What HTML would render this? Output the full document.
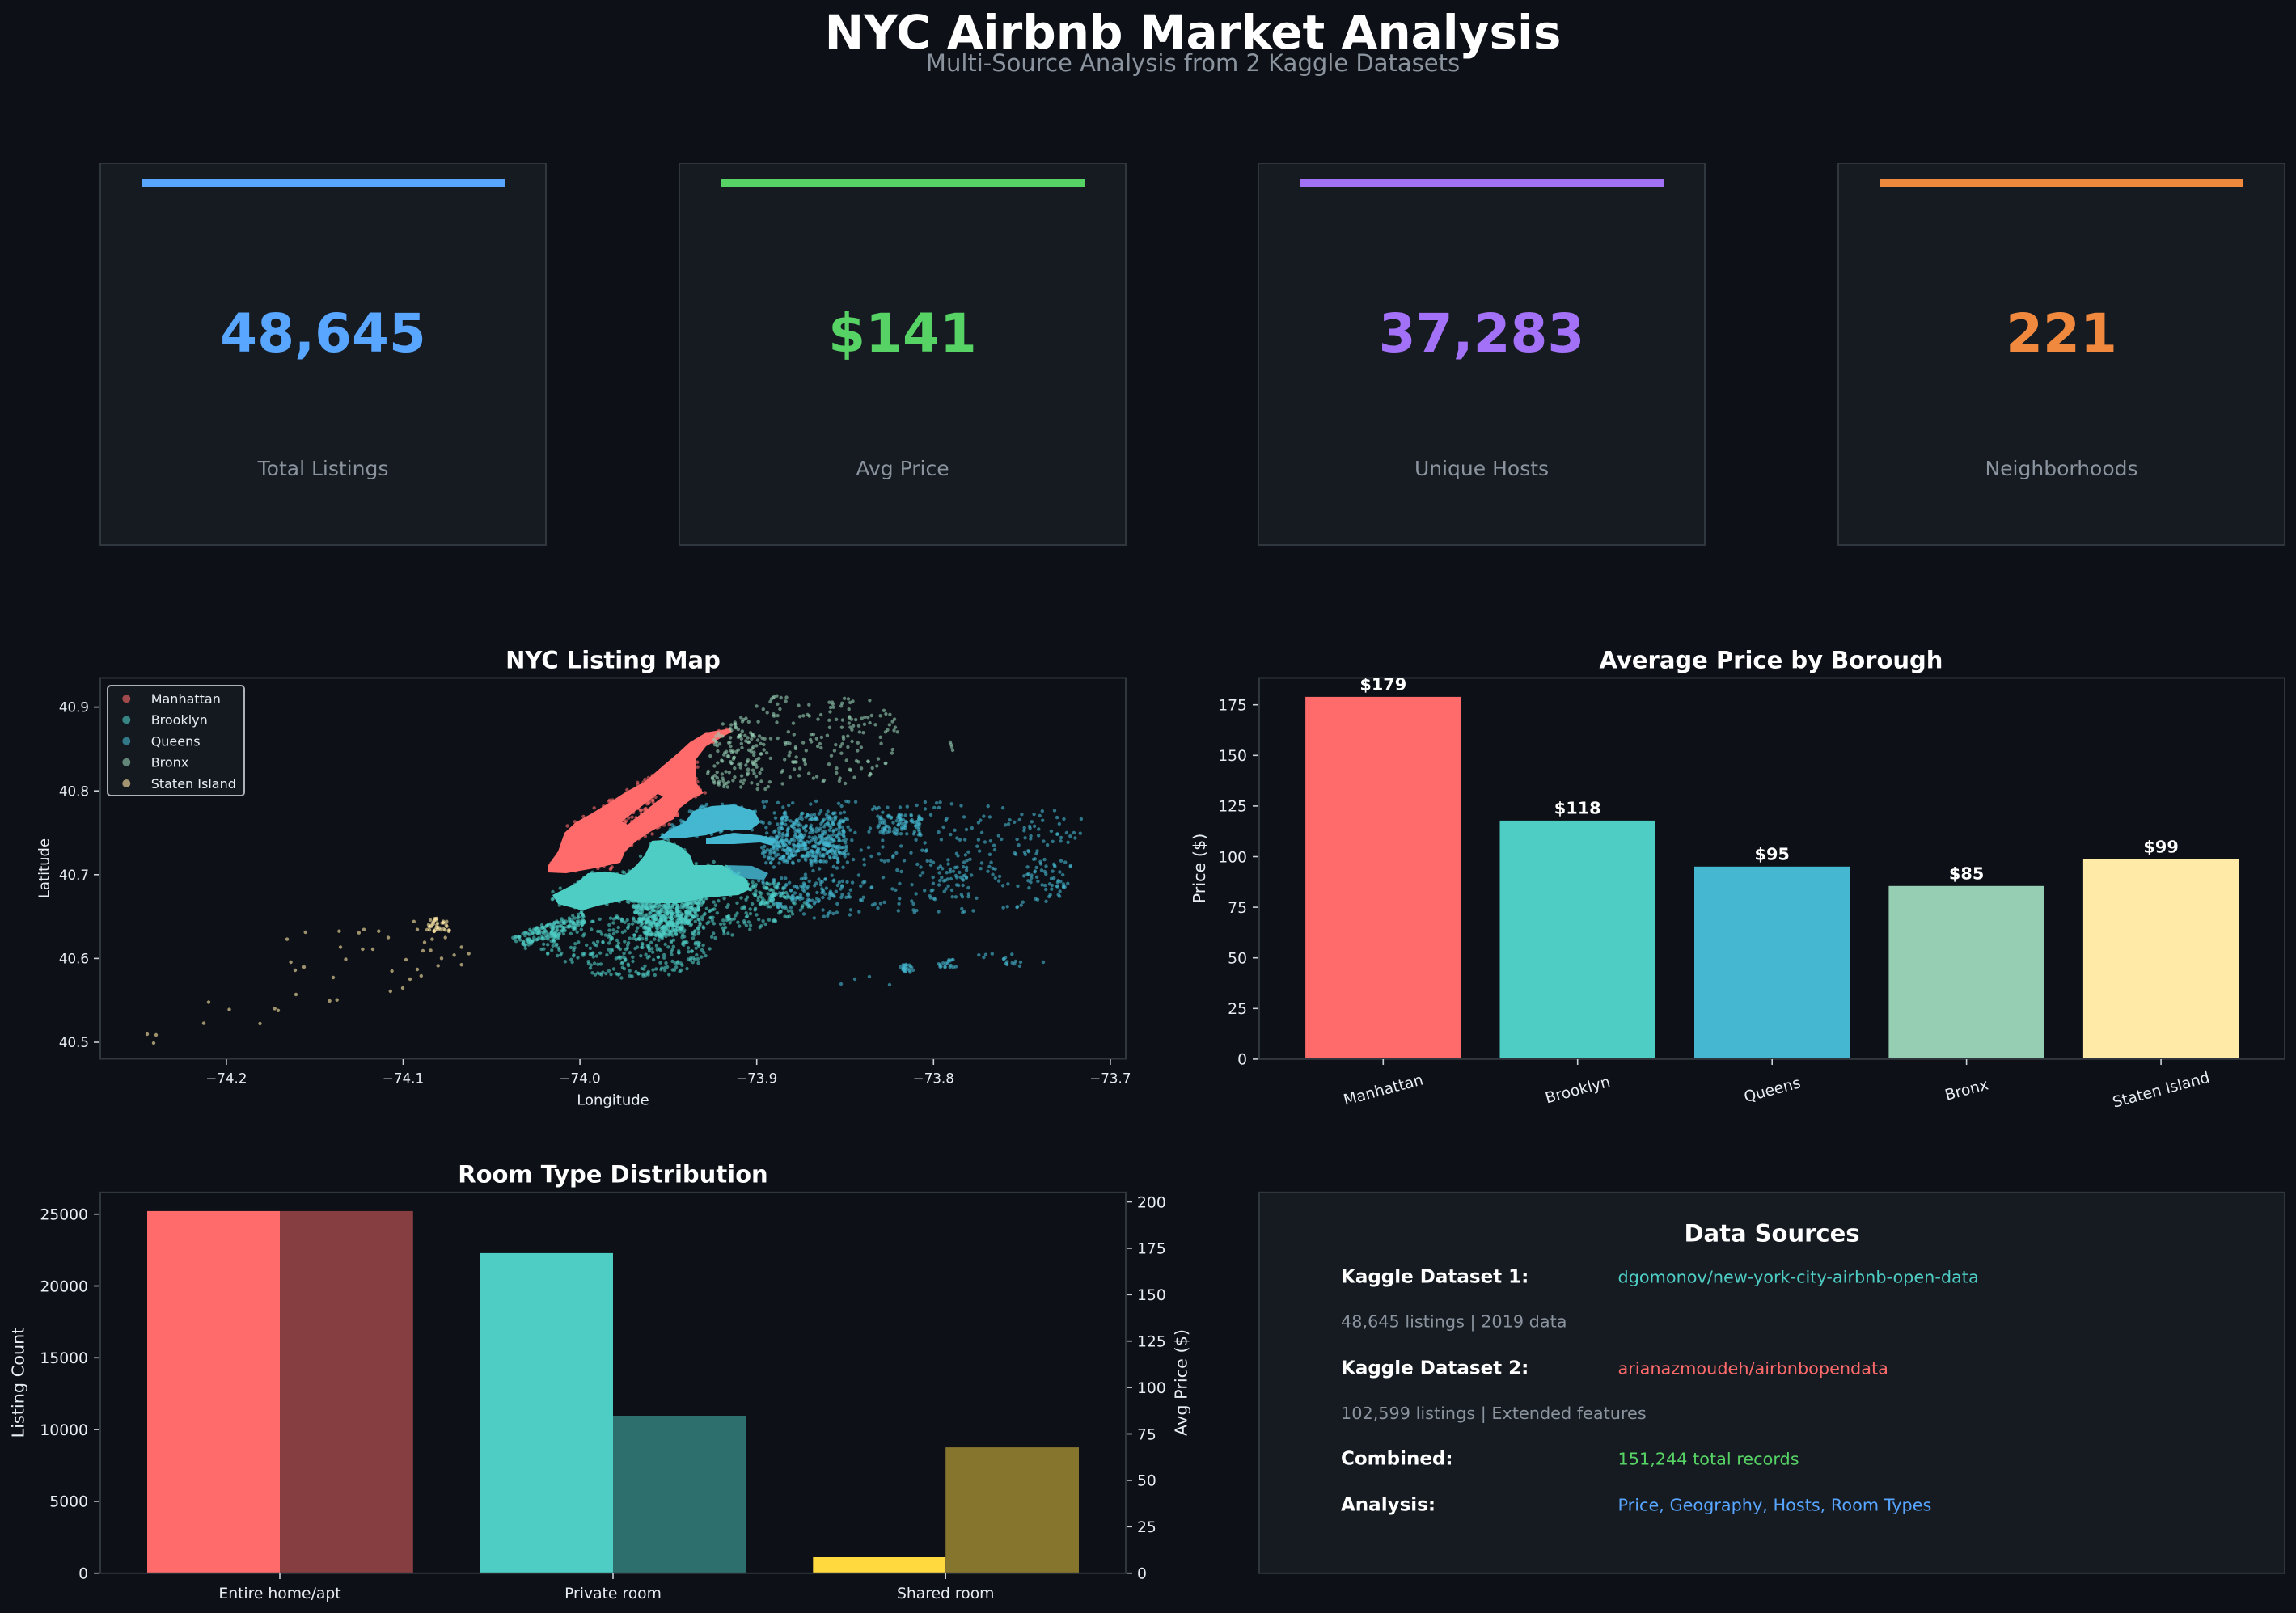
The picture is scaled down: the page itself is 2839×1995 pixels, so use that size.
<!DOCTYPE html>
<html><head><meta charset="utf-8"><style>
html,body{margin:0;padding:0;background:#0d1117;}
svg{display:block;}
text{font-family:"DejaVu Sans","Liberation Sans",sans-serif;}
</style></head><body>
<svg id="root" xmlns="http://www.w3.org/2000/svg" width="2839" height="1995" viewBox="0 0 2839 1995">
<rect x="0" y="0" width="2839" height="1995" fill="#0d1117"/>
<defs><clipPath id="mapclip"><rect x="124" y="838.5" width="1268" height="471"/></clipPath></defs>

<!-- Titles -->
<text x="1475" y="60" font-size="58" font-weight="bold" fill="#ffffff" text-anchor="middle">NYC Airbnb Market Analysis</text>
<text x="1475" y="88" font-size="29" fill="#8b949e" text-anchor="middle">Multi-Source Analysis from 2 Kaggle Datasets</text>

<!-- KPI cards -->
<g>
<rect x="124" y="202" width="551" height="472" fill="#161b22" stroke="#30363d" stroke-width="2"/>
<rect x="175" y="222" width="449" height="9" fill="#58a6ff"/>
<text x="399.5" y="435" font-size="66" font-weight="bold" fill="#58a6ff" text-anchor="middle">48,645</text>
<text x="399.5" y="588" font-size="25" fill="#8b949e" text-anchor="middle">Total Listings</text>

<rect x="840" y="202" width="552" height="472" fill="#161b22" stroke="#30363d" stroke-width="2"/>
<rect x="891" y="222" width="450" height="9" fill="#56d364"/>
<text x="1116" y="435" font-size="66" font-weight="bold" fill="#56d364" text-anchor="middle">$141</text>
<text x="1116" y="588" font-size="25" fill="#8b949e" text-anchor="middle">Avg Price</text>

<rect x="1556" y="202" width="552" height="472" fill="#161b22" stroke="#30363d" stroke-width="2"/>
<rect x="1607" y="222" width="450" height="9" fill="#a371f7"/>
<text x="1832" y="435" font-size="66" font-weight="bold" fill="#a371f7" text-anchor="middle">37,283</text>
<text x="1832" y="588" font-size="25" fill="#8b949e" text-anchor="middle">Unique Hosts</text>

<rect x="2273" y="202" width="552" height="472" fill="#161b22" stroke="#30363d" stroke-width="2"/>
<rect x="2324" y="222" width="450" height="9" fill="#f0883e"/>
<text x="2549" y="435" font-size="66" font-weight="bold" fill="#f0883e" text-anchor="middle">221</text>
<text x="2549" y="588" font-size="25" fill="#8b949e" text-anchor="middle">Neighborhoods</text>
</g>

<!-- ============ MAP ============ -->
<text x="758" y="826.7" font-size="29" font-weight="bold" fill="#ffffff" text-anchor="middle">NYC Listing Map</text>
<g clip-path="url(#mapclip)">
  <!-- Manhattan -->
  <path fill="#FF6B6B" fill-rule="evenodd" d="M903,901 L873,906 L853,918 L840,930 L820,947 L797,967 L773,980 L753,993 L730,1007 L712,1017 L698,1030 L690,1053 L678,1070 L677,1079 L700,1080 L740,1073 L767,1067 L773,1053 L787,1040 L807,1027 L833,1013 L840,1000 L857,987 L870,981 L860,967 L860,940 L873,923 L905,905 Z M769,1016 L813,982 L820,985 L776,1020 Z"/>
  <!-- Brooklyn dense -->
  <path fill="#4ECDC4" d="M683,1107 L713,1092 L727,1080 L750,1078 L773,1082 L787,1070 L797,1058 L806,1040 L820,1039 L840,1046 L853,1057 L858,1070 L893,1070 L923,1087 L927,1100 L913,1107 L873,1110 L840,1117 L806,1117 L773,1113 L740,1120 L720,1126 L690,1118 Z"/>
  <!-- Queens dense -->
  <path fill="#45B7D1" d="M847,1017 L857,1003 L880,997 L907,995 L933,1003 L940,1017 L927,1027 L893,1027 L873,1033 L840,1037 L813,1037 L827,1027 Z"/>
  <path fill="#45B7D1" d="M873,1037 L907,1030 L940,1033 L960,1038 L955,1046 L940,1042 L907,1044 L873,1044 Z"/>
  <path fill="#45B7D1" fill-opacity="0.85" d="M897,1070 L930,1071 L950,1080 L945,1088 L925,1087 L905,1080 Z"/>
  <g id="dots"></g>
  <!-- Staten Island static -->
  <g fill="#FFEAA7" fill-opacity="0.6">
    <circle cx="190" cy="1290" r="2.2"/><circle cx="193" cy="1280" r="2.2"/><circle cx="182" cy="1279" r="2.2"/>
    <circle cx="252" cy="1265.6" r="2.2"/><circle cx="258" cy="1239.5" r="2.2"/><circle cx="283.5" cy="1248.6" r="2.2"/>
    <circle cx="321.5" cy="1266" r="2.2"/><circle cx="339.7" cy="1247.4" r="2.2"/><circle cx="344" cy="1249.8" r="2.2"/>
    <circle cx="366" cy="1230" r="2.2"/><circle cx="407.6" cy="1237.9" r="2.2"/><circle cx="416.7" cy="1236.7" r="2.2"/>
    <circle cx="412" cy="1209" r="2.2"/><circle cx="365" cy="1200" r="2.2"/><circle cx="376" cy="1196" r="2.2"/>
    <circle cx="359.6" cy="1190" r="2.2"/><circle cx="355" cy="1161.6" r="2.2"/><circle cx="377.7" cy="1153" r="2.2"/>
    <circle cx="419.4" cy="1151.7" r="2.2"/><circle cx="421" cy="1171.5" r="2.2"/><circle cx="427.5" cy="1186.5" r="2.2"/>
    <circle cx="443.8" cy="1153.7" r="2.2"/><circle cx="450" cy="1149.7" r="2.2"/><circle cx="448.4" cy="1174" r="2.2"/>
    <circle cx="461" cy="1174" r="2.2"/><circle cx="468.3" cy="1151.7" r="2.2"/><circle cx="480" cy="1159.6" r="2.2"/>
    <circle cx="484.6" cy="1201" r="2.2"/><circle cx="482.8" cy="1226" r="2.2"/><circle cx="498" cy="1222" r="2.2"/>
    <circle cx="507" cy="1211" r="2.2"/><circle cx="516" cy="1199" r="2.2"/><circle cx="520.8" cy="1207" r="2.2"/>
    <circle cx="532.6" cy="1175.4" r="2.2"/><circle cx="546" cy="1185.3" r="2.2"/><circle cx="541.7" cy="1194.4" r="2.2"/>
    <circle cx="525" cy="1165.5" r="2.2"/><circle cx="550.7" cy="1159.6" r="2.2"/><circle cx="570.7" cy="1171.5" r="2.2"/>
    <circle cx="579.7" cy="1179.4" r="2.2"/><circle cx="570.7" cy="1193.2" r="2.2"/><circle cx="561.6" cy="1181.3" r="2.2"/>
    <circle cx="539" cy="1137.9" r="2.2"/><circle cx="530" cy="1143.8" r="2.2"/><circle cx="543.5" cy="1147.7" r="2.2"/>
    <circle cx="516" cy="1149.7" r="2.2"/><circle cx="511.8" cy="1139.8" r="2.2"/><circle cx="552.5" cy="1145.8" r="2.2"/>
    <circle cx="534.4" cy="1161.6" r="2.2"/><circle cx="536" cy="1140" r="2.2"/><circle cx="541" cy="1142" r="2.2"/>
    <circle cx="545" cy="1150" r="2.2"/><circle cx="537" cy="1152" r="2.2"/><circle cx="548" cy="1141" r="2.2"/>
    <circle cx="533" cy="1146" r="2.2"/><circle cx="540" cy="1136" r="2.2"/><circle cx="528" cy="1150" r="2.2"/>
    <circle cx="555" cy="1152" r="2.2"/><circle cx="523" cy="1176" r="2.2"/><circle cx="502" cy="1187" r="2.2"/>
  </g>
</g>
<rect x="124" y="838.5" width="1268" height="471" fill="none" stroke="#30363d" stroke-width="2"/>
<!-- map ticks -->
<g stroke="#c9d1d9" stroke-width="1.6">
  <line x1="279.9" y1="1310" x2="279.9" y2="1317"/><line x1="498.5" y1="1310" x2="498.5" y2="1317"/>
  <line x1="717.1" y1="1310" x2="717.1" y2="1317"/><line x1="935.7" y1="1310" x2="935.7" y2="1317"/>
  <line x1="1154.3" y1="1310" x2="1154.3" y2="1317"/><line x1="1372.9" y1="1310" x2="1372.9" y2="1317"/>
  <line x1="116" y1="874.6" x2="123" y2="874.6"/><line x1="116" y1="978.2" x2="123" y2="978.2"/>
  <line x1="116" y1="1081.8" x2="123" y2="1081.8"/><line x1="116" y1="1185.4" x2="123" y2="1185.4"/>
  <line x1="116" y1="1289" x2="123" y2="1289"/>
</g>
<g font-size="16.7" fill="#e6edf3" text-anchor="middle">
  <text x="279.9" y="1339.5">−74.2</text><text x="498.5" y="1339.5">−74.1</text><text x="717.1" y="1339.5">−74.0</text>
  <text x="935.7" y="1339.5">−73.9</text><text x="1154.3" y="1339.5">−73.8</text><text x="1372.9" y="1339.5">−73.7</text>
</g>
<g font-size="16.7" fill="#e6edf3" text-anchor="end">
  <text x="110" y="880.7">40.9</text><text x="110" y="984.3">40.8</text><text x="110" y="1087.9">40.7</text>
  <text x="110" y="1191.5">40.6</text><text x="110" y="1295.1">40.5</text>
</g>
<text x="758" y="1366.4" font-size="18" fill="#e6edf3" text-anchor="middle">Longitude</text>
<text x="60.5" y="1074" font-size="18" fill="#e6edf3" text-anchor="middle" transform="rotate(-90 60.5 1074)">Latitude</text>
<!-- legend -->
<rect x="133" y="848" width="169" height="136" rx="4" fill="#161b22" fill-opacity="0.85" stroke="#aeb2b7" stroke-width="2"/>
<g fill-opacity="0.6">
  <circle cx="156.3" cy="864.3" r="5" fill="#FF6B6B"/>
  <circle cx="156.3" cy="890.4" r="5" fill="#4ECDC4"/>
  <circle cx="156.3" cy="916.6" r="5" fill="#45B7D1"/>
  <circle cx="156.3" cy="942.8" r="5" fill="#96CEB4"/>
  <circle cx="156.3" cy="969" r="5" fill="#FFEAA7"/>
</g>
<g font-size="16" fill="#e6edf3">
  <text x="186.7" y="870">Manhattan</text>
  <text x="186.7" y="896.2">Brooklyn</text>
  <text x="186.7" y="922.4">Queens</text>
  <text x="186.7" y="948.6">Bronx</text>
  <text x="186.7" y="974.8">Staten Island</text>
</g>

<!-- ============ PRICE BY BOROUGH ============ -->
<text x="2190" y="826.7" font-size="29" font-weight="bold" fill="#ffffff" text-anchor="middle">Average Price by Borough</text>
<rect x="1614.1" y="861.9" width="192.4" height="448" fill="#FF6B6B"/>
<rect x="1854.5" y="1014.9" width="192.4" height="295" fill="#4ECDC4"/>
<rect x="2095" y="1071.8" width="192.4" height="238.1" fill="#45B7D1"/>
<rect x="2335.4" y="1095.8" width="192.4" height="214.1" fill="#96CEB4"/>
<rect x="2575.9" y="1063" width="192.4" height="246.9" fill="#FFEAA7"/>
<rect x="1557" y="838.5" width="1268" height="471.4" fill="none" stroke="#30363d" stroke-width="2"/>
<g font-size="20.8" font-weight="bold" fill="#ffffff" text-anchor="middle">
  <text x="1710.3" y="853.4">$179</text>
  <text x="1950.7" y="1006.4">$118</text>
  <text x="2191.2" y="1063.3">$95</text>
  <text x="2431.6" y="1087.3">$85</text>
  <text x="2672.1" y="1054.5">$99</text>
</g>
<g stroke="#c9d1d9" stroke-width="1.6">
  <line x1="1549" y1="1309.9" x2="1556" y2="1309.9"/><line x1="1549" y1="1247.3" x2="1556" y2="1247.3"/>
  <line x1="1549" y1="1184.7" x2="1556" y2="1184.7"/><line x1="1549" y1="1122.1" x2="1556" y2="1122.1"/>
  <line x1="1549" y1="1059.5" x2="1556" y2="1059.5"/><line x1="1549" y1="996.9" x2="1556" y2="996.9"/>
  <line x1="1549" y1="934.3" x2="1556" y2="934.3"/><line x1="1549" y1="871.7" x2="1556" y2="871.7"/>
  <line x1="1710.3" y1="1310" x2="1710.3" y2="1317"/><line x1="1950.7" y1="1310" x2="1950.7" y2="1317"/>
  <line x1="2191.2" y1="1310" x2="2191.2" y2="1317"/><line x1="2431.6" y1="1310" x2="2431.6" y2="1317"/>
  <line x1="2672.1" y1="1310" x2="2672.1" y2="1317"/>
</g>
<g font-size="18.75" fill="#e6edf3" text-anchor="end">
  <text x="1542" y="1316.7">0</text><text x="1542" y="1254.1">25</text><text x="1542" y="1191.5">50</text>
  <text x="1542" y="1128.9">75</text><text x="1542" y="1066.3">100</text><text x="1542" y="1003.7">125</text>
  <text x="1542" y="941.1">150</text><text x="1542" y="878.5">175</text>
</g>
<g font-size="18.75" fill="#e6edf3" text-anchor="middle">
  <text x="1710.3" y="1354.2" transform="rotate(-15 1710.3 1347.4)">Manhattan</text>
  <text x="1950.7" y="1354.2" transform="rotate(-15 1950.7 1347.4)">Brooklyn</text>
  <text x="2191.2" y="1354.2" transform="rotate(-15 2191.2 1347.4)">Queens</text>
  <text x="2431.6" y="1354.2" transform="rotate(-15 2431.6 1347.4)">Bronx</text>
  <text x="2672.1" y="1354.2" transform="rotate(-15 2672.1 1347.4)">Staten Island</text>
</g>
<text x="1490" y="1074" font-size="20.8" fill="#e6edf3" text-anchor="middle" transform="rotate(-90 1490 1074)">Price ($)</text>

<!-- ============ ROOM TYPE ============ -->
<text x="758" y="1462.6" font-size="29" font-weight="bold" fill="#ffffff" text-anchor="middle">Room Type Distribution</text>
<rect x="182" y="1497.9" width="164" height="447.8" fill="#FF6B6B"/>
<rect x="346" y="1497.9" width="164.8" height="447.8" fill="#863e41"/>
<rect x="593.2" y="1549.9" width="164.8" height="395.8" fill="#4ECDC4"/>
<rect x="758" y="1751" width="164" height="194.7" fill="#2d6f6d"/>
<rect x="1005.3" y="1926" width="163.9" height="19.7" fill="#FFD93D"/>
<rect x="1169.2" y="1790.1" width="164.8" height="155.6" fill="#86752c"/>
<rect x="124" y="1474.8" width="1268" height="471" fill="none" stroke="#30363d" stroke-width="2"/>
<g stroke="#c9d1d9" stroke-width="1.6">
  <line x1="116" y1="1945.7" x2="123" y2="1945.7"/><line x1="116" y1="1856.9" x2="123" y2="1856.9"/>
  <line x1="116" y1="1768.1" x2="123" y2="1768.1"/><line x1="116" y1="1679.3" x2="123" y2="1679.3"/>
  <line x1="116" y1="1590.5" x2="123" y2="1590.5"/><line x1="116" y1="1501.7" x2="123" y2="1501.7"/>
  <line x1="1393" y1="1945.7" x2="1400" y2="1945.7"/><line x1="1393" y1="1888.3" x2="1400" y2="1888.3"/>
  <line x1="1393" y1="1830.9" x2="1400" y2="1830.9"/><line x1="1393" y1="1773.5" x2="1400" y2="1773.5"/>
  <line x1="1393" y1="1716.1" x2="1400" y2="1716.1"/><line x1="1393" y1="1658.7" x2="1400" y2="1658.7"/>
  <line x1="1393" y1="1601.3" x2="1400" y2="1601.3"/><line x1="1393" y1="1543.9" x2="1400" y2="1543.9"/>
  <line x1="1393" y1="1486.5" x2="1400" y2="1486.5"/>
  <line x1="346" y1="1946" x2="346" y2="1953"/><line x1="758" y1="1946" x2="758" y2="1953"/>
  <line x1="1169.2" y1="1946" x2="1169.2" y2="1953"/>
</g>
<g font-size="18.75" fill="#e6edf3" text-anchor="end">
  <text x="109" y="1952.5">0</text><text x="109" y="1863.7">5000</text><text x="109" y="1774.9">10000</text>
  <text x="109" y="1686.1">15000</text><text x="109" y="1597.3">20000</text><text x="109" y="1508.5">25000</text>
</g>
<g font-size="18.75" fill="#e6edf3" text-anchor="start">
  <text x="1406" y="1952.5">0</text><text x="1406" y="1895.1">25</text><text x="1406" y="1837.7">50</text>
  <text x="1406" y="1780.3">75</text><text x="1406" y="1722.9">100</text><text x="1406" y="1665.5">125</text>
  <text x="1406" y="1608.1">150</text><text x="1406" y="1550.7">175</text><text x="1406" y="1493.3">200</text>
</g>
<g font-size="18.75" fill="#e6edf3" text-anchor="middle">
  <text x="346" y="1977">Entire home/apt</text>
  <text x="758" y="1977">Private room</text>
  <text x="1169.2" y="1977">Shared room</text>
</g>
<text x="29.4" y="1710" font-size="20.8" fill="#e6edf3" text-anchor="middle" transform="rotate(-90 29.4 1710)">Listing Count</text>
<text x="1467.5" y="1710" font-size="20.8" fill="#e6edf3" text-anchor="middle" transform="rotate(-90 1467.5 1710)">Avg Price ($)</text>

<!-- ============ DATA SOURCES ============ -->
<rect x="1557" y="1474.8" width="1268" height="471" fill="#161b22" stroke="#30363d" stroke-width="2"/>
<text x="2191" y="1535.5" font-size="29" font-weight="bold" fill="#ffffff" text-anchor="middle">Data Sources</text>
<g font-size="23" font-weight="bold" fill="#ffffff">
  <text x="1658" y="1586.7">Kaggle Dataset 1:</text>
  <text x="1658" y="1699.3">Kaggle Dataset 2:</text>
  <text x="1658" y="1811.7">Combined:</text>
  <text x="1658" y="1868.3">Analysis:</text>
</g>
<g font-size="20.8">
  <text x="2000.5" y="1586.7" fill="#4ECDC4">dgomonov/new-york-city-airbnb-open-data</text>
  <text x="1658" y="1641.7" fill="#8b949e">48,645 listings | 2019 data</text>
  <text x="2000.5" y="1699.3" fill="#FF6B6B">arianazmoudeh/airbnbopendata</text>
  <text x="1658" y="1755" fill="#8b949e">102,599 listings | Extended features</text>
  <text x="2000.5" y="1811.7" fill="#56d364">151,244 total records</text>
  <text x="2000.5" y="1868.3" fill="#58a6ff">Price, Geography, Hosts, Room Types</text>
</g>
</svg>
<script>
(function(){
var NS="http://www.w3.org/2000/svg";
var g=document.getElementById('dots');
var s=987654321;
function r(){s=(Math.imul(s,1664525)+1013904223)>>>0;return s/4294967296;}
function inPoly(x,y,p){var c=false;for(var i=0,j=p.length-1;i<p.length;j=i++){var xi=p[i][0],yi=p[i][1],xj=p[j][0],yj=p[j][1];if(((yi>y)!=(yj>y))&&(x<(xj-xi)*(y-yi)/(yj-yi)+xi))c=!c;}return c;}
function dot(x,y,col){var c=document.createElementNS(NS,'circle');c.setAttribute('cx',x.toFixed(1));c.setAttribute('cy',y.toFixed(1));c.setAttribute('r','2.2');c.setAttribute('fill',col);c.setAttribute('fill-opacity','0.6');g.appendChild(c);}
function fill(p,n,col,j){j=j||0;var a=1e9,b=-1e9,c=1e9,d=-1e9;p.forEach(function(q){a=Math.min(a,q[0]);b=Math.max(b,q[0]);c=Math.min(c,q[1]);d=Math.max(d,q[1]);});var k=0,t=0;while(k<n&&t<n*60){t++;var x=a+r()*(b-a),y=c+r()*(d-c);if(inPoly(x,y,p)){dot(x+(r()-0.5)*2*j,y+(r()-0.5)*2*j,col);k++;}}}
function box(x0,y0,x1,y1,n,col){fill([[x0,y0],[x1,y0],[x1,y1],[x0,y1]],n,col);}
var M='#FF6B6B',B='#4ECDC4',Q='#45B7D1',X='#96CEB4',S='#FFEAA7';
// Brooklyn scattered
fill([[630,1158],[660,1148],[690,1140],[730,1133],[770,1133],[800,1128],[850,1125],[900,1110],[950,1105],[990,1108],[1005,1122],[965,1140],[930,1150],[900,1158],[880,1175],[865,1195],[835,1205],[800,1210],[760,1212],[720,1202],[690,1188],[660,1175],[635,1172]],520,B);
fill([[632,1160],[680,1140],[720,1128],[725,1145],[690,1158],[650,1170]],150,B);
fill([[780,1112],[875,1108],[855,1140],[840,1152],[813,1162],[797,1155],[787,1135]],480,B);
// fuzzy edges of dense Brooklyn
fill([[683,1107],[713,1092],[727,1080],[750,1078],[773,1082],[787,1070],[797,1058],[806,1040],[820,1039],[840,1046],[853,1057],[858,1070],[893,1070],[923,1087],[927,1100],[913,1107],[873,1110],[840,1117],[806,1117],[773,1113],[740,1120],[720,1126],[690,1118]],500,B,6);
// Manhattan fuzzy
fill([[903,901],[873,906],[853,918],[840,930],[820,947],[797,967],[773,980],[753,993],[730,1007],[712,1017],[698,1030],[690,1053],[678,1070],[677,1079],[700,1080],[740,1073],[767,1067],[773,1053],[787,1040],[807,1027],[833,1013],[840,1000],[857,987],[870,981],[860,967],[860,940],[873,923],[905,905]],500,M,5);
// Queens dense band fuzz
fill([[847,1017],[857,1003],[880,997],[907,995],[933,1003],[940,1017],[927,1027],[893,1027],[873,1033],[840,1037],[813,1037],[827,1027]],180,Q,5);
// Queens scattered
fill([[940,990],[1000,985],[1060,992],[1120,988],[1180,988],[1240,995],[1300,1000],[1338,1008],[1336,1060],[1322,1110],[1300,1135],[1250,1130],[1200,1128],[1150,1130],[1100,1130],[1050,1132],[1000,1136],[965,1120],[950,1095],[945,1060]],380,Q);
box(955,1005,1050,1060,240,Q);
box(1085,1008,1140,1032,70,Q);
box(940,1035,1040,1068,170,Q);
fill([[935,1088],[1000,1084],[1050,1090],[1050,1110],[1000,1120],[960,1125]],100,Q);
fill([[925,1095],[965,1090],[975,1110],[940,1120]],60,B);
box(1150,1060,1200,1110,40,Q);
box(1270,1060,1320,1100,30,Q);
// Rockaway
box(1113,1192,1130,1203,22,Q);box(1160,1186,1182,1198,18,Q);box(1210,1178,1262,1195,16,Q);
dot(1290,1190,Q);dot(1100,1218,Q);dot(1040,1217,Q);dot(1057,1211,Q);dot(1075,1208,Q);
// Bronx
fill([[870,965],[878,935],[893,908],[912,888],[935,870],[948,858],[975,862],[1000,866],[1040,862],[1080,866],[1105,885],[1113,918],[1108,955],[1080,965],[1040,970],[1000,968],[965,975],[930,978],[895,975]],230,X);
box(880,895,945,975,80,X);
dot(1175,918,X);dot(1177,924,X);dot(1178,928,X);dot(1176,921,X);
// Staten Island cluster
box(528,1136,556,1152,25,S);
})();
</script>
</body></html>
